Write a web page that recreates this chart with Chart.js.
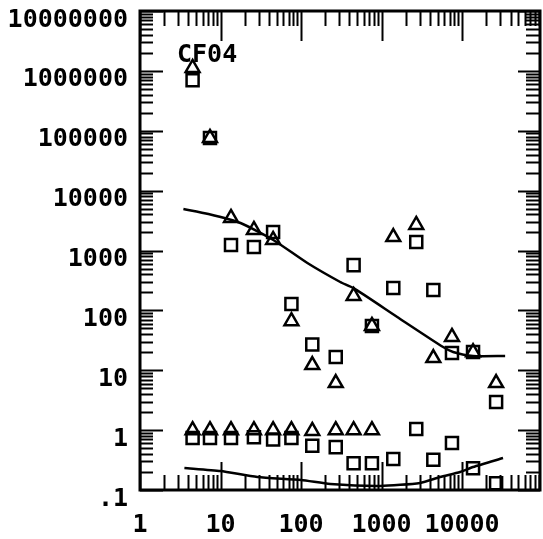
<!DOCTYPE html>
<html>
<head>
<meta charset="utf-8">
<script src="https://cdn.jsdelivr.net/npm/chart.js@4.4.1/dist/chart.umd.min.js"></script>
<style>
  body { margin: 0; background: #fff; }
  #wrap { width: 543px; height: 539px; }
</style>
</head>
<body>
<div id="wrap"><canvas id="cf04Chart"></canvas></div>
<script>
// sample positions (shared by both marker series)
const xValues = [4.5, 7.4, 13.5, 26, 45, 76, 138, 270, 450, 760, 1400, 2700, 4400, 7500, 13700, 26500];

// triangles
const triangleHigh = [1120000, 76000, 3500, 2200, 1500, 66, 12.2, 6.1, 174, 55, 1680, 2670, 16, 36, 20, 6.1];
const triangleLow = [1.0, 1.0, 1.0, 1.0, 1.0, 1.0, 0.97, 1.0, 1.0, 1.0, null, null, null, null, null, null];

// squares
const squareHigh = [700000, 76000, 1240, 1140, 2040, 128, 27, 16.6, 570, 55, 236, 1390, 219, 19.4, 20.2, 2.95];
const squareLow = [0.74, 0.74, 0.74, 0.76, 0.70, 0.74, 0.55, 0.52, 0.28, 0.28, 0.33, 1.04, 0.32, 0.61, 0.23, 0.13];

// fitted curves
const upperCurveX = [3.46, 7.08, 17.7, 45.3, 120, 307, 446, 1567, 5820, 7750, 13700, 34300];
const upperCurveY = [4930, 4070, 2880, 1500, 618, 298, 237, 77.5, 24.4, 20.2, 17.3, 17.3];
const lowerCurveX = [3.56, 10, 28.7, 100, 231, 964, 3020, 5350, 9460, 13700, 32300];
const lowerCurveY = [0.233, 0.207, 0.165, 0.147, 0.126, 0.117, 0.131, 0.165, 0.20, 0.242, 0.342];

// axes
const xTickValues = [1, 10, 100, 1000, 10000];
const xTickLabels = ['1', '10', '100', '1000', '10000'];
const yTickValues = [0.1, 1, 10, 100, 1000, 10000, 100000, 1000000, 10000000];
const yTickLabels = ['.1', '1', '10', '100', '1000', '10000', '100000', '1000000', '10000000'];
const tickSteps = [1, 2, 3, 4, 5, 6, 7, 8, 9];
const panelLabel = 'CF04';

const labelFont = { family: 'DejaVu Sans Mono', weight: 'bold', size: 25 };

function pairs(xs, ys) {
  return xs.map((x, i) => ({ x: x, y: ys[i] })).filter(p => p.y !== null);
}

// frame + inward log ticks on all four sides, plus the panel name
const framePlugin = {
  id: 'frame',
  afterDraw(chart) {
    const { ctx, chartArea: a, scales } = chart;
    const xs = scales.x, ys = scales.y;
    ctx.save();
    ctx.strokeStyle = '#000';
    ctx.lineWidth = 2;
    const line = (x1, y1, x2, y2) => {
      ctx.beginPath(); ctx.moveTo(x1, y1); ctx.lineTo(x2, y2); ctx.stroke();
    };
    for (let e = 0; e <= 5; e++) {
      tickSteps.forEach(m => {
        const v = m * Math.pow(10, e);
        if (v < xs.min || v > xs.max) return;
        const px = Math.round(xs.getPixelForValue(v)) + 0.5;
        const major = m === 1;
        line(px, a.bottom, px, a.bottom - (major ? 28 : 15));
        line(px, a.top, px, a.top + (major ? 30 : 15));
      });
    }
    for (let e = -1; e <= 7; e++) {
      tickSteps.forEach(m => {
        const v = m * Math.pow(10, e);
        if (v < ys.min * 0.999 || v > ys.max * 1.001) return;
        const py = Math.round(ys.getPixelForValue(v)) + 0.5;
        const major = m === 1;
        line(a.left, py, a.left + (major ? 23 : 13), py);
        line(a.right, py, a.right - (major ? 22 : 14), py);
      });
    }
    ctx.lineWidth = 3;
    ctx.strokeRect(a.left, a.top, a.right - a.left, a.bottom - a.top);

    ctx.fillStyle = '#000';
    ctx.font = 'bold 25px "DejaVu Sans Mono"';
    ctx.textBaseline = 'top';
    ctx.fillText(panelLabel, a.left + 37, a.top + 32);
    ctx.restore();
  }
};

const ctx = document.getElementById('cf04Chart').getContext('2d');
new Chart(ctx, {
  type: 'scatter',
  data: {
    datasets: [
      {
        type: 'line',
        data: pairs(upperCurveX, upperCurveY),
        borderColor: '#000',
        borderWidth: 2.5,
        pointRadius: 0,
        fill: false,
        tension: 0.2
      },
      {
        type: 'line',
        data: pairs(lowerCurveX, lowerCurveY),
        borderColor: '#000',
        borderWidth: 2.5,
        pointRadius: 0,
        fill: false,
        tension: 0.2
      },
      {
        data: pairs(xValues, triangleHigh).concat(pairs(xValues, triangleLow)),
        pointStyle: 'triangle',
        pointRadius: 8,
        borderColor: '#000',
        backgroundColor: 'rgba(0,0,0,0)',
        borderWidth: 2.5
      },
      {
        data: pairs(xValues, squareHigh).concat(pairs(xValues, squareLow)),
        pointStyle: 'rect',
        pointRadius: 8.5,
        borderColor: '#000',
        backgroundColor: 'rgba(0,0,0,0)',
        borderWidth: 2.5
      }
    ]
  },
  options: {
    responsive: true,
    maintainAspectRatio: false,
    animation: false,
    clip: false,
    layout: { autoPadding: false, padding: { top: 11, right: 3, left: 0, bottom: 0 } },
    plugins: {
      legend: { display: false },
      tooltip: { enabled: false }
    },
    scales: {
      x: {
        type: 'logarithmic',
        min: 1,
        max: 93000,
        grid: { display: false, drawTicks: false },
        border: { display: false },
        afterBuildTicks: s => { s.ticks = xTickValues.map(v => ({ value: v })); },
        afterFit: s => { s.height = 49; s.paddingLeft = 0; s.paddingRight = 0; },
        ticks: {
          color: '#000',
          font: labelFont,
          padding: 20,
          maxRotation: 0,
          autoSkip: false,
          callback: (v, i) => xTickLabels[i]
        }
      },
      y: {
        type: 'logarithmic',
        min: 0.1,
        max: 10000000,
        grid: { display: false, drawTicks: false },
        border: { display: false },
        afterBuildTicks: s => { s.ticks = yTickValues.map(v => ({ value: v })); },
        afterFit: s => { s.width = 140; s.paddingTop = 0; s.paddingBottom = 0; },
        ticks: {
          color: '#000',
          font: labelFont,
          padding: 12,
          labelOffset: 9,
          autoSkip: false,
          callback: (v, i) => yTickLabels[i]
        }
      }
    }
  },
  plugins: [framePlugin]
});
</script>
</body>
</html>
